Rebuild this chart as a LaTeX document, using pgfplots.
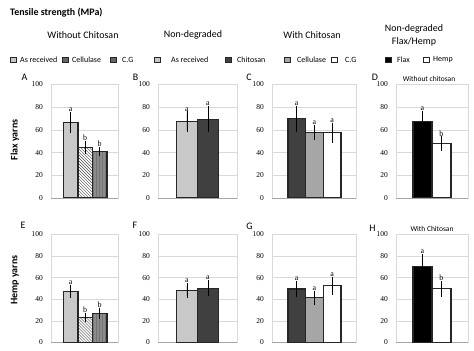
\documentclass[border=0pt]{standalone}
\usepackage{fontspec}
\setmainfont{Carlito}
\newfontfamily\tnr{Liberation Serif}
\usepackage{pgfplots}
\pgfplotsset{compat=1.18}
\usetikzlibrary{patterns}
\definecolor{gridc}{HTML}{D9D9D9}
\definecolor{axc}{HTML}{A6A6A6}
\definecolor{edgec}{HTML}{262626}
\definecolor{asrec}{HTML}{C8C8C8}
\definecolor{chit}{HTML}{404040}
\definecolor{cellc}{HTML}{A6A6A6}
\definecolor{cgc}{HTML}{8C8C8C}
\definecolor{legdark}{HTML}{666666}
\pgfplotsset{
 panel/.style={scale only axis, anchor=south west, ymin=0, ymax=100, ytick={0,20,...,100},
   ymajorgrids, grid style={draw=gridc, line width=0.6bp}, axis line style={draw=gridc, line width=0.6bp},
   xtick=\empty, major tick length=0pt,
   extra y ticks={0}, extra y tick labels={}, extra y tick style={grid style={draw=axc, line width=0.9bp}},
   /pgf/number format/assume math mode=true,
   yticklabel style={font=\tnr\fontsize{7.5}{8}\selectfont, inner sep=0pt, xshift=-8bp}},
 mybar/.style={ybar, bar width=1, bar shift=0pt, draw=edgec, line width=1.2bp,
   error bars/y dir=both, error bars/y explicit,
   error bars/error bar style={black, line width=0.9bp},
   error bars/error mark options={black, line width=0.9bp, mark size=1.9bp}},
 lett/.style={only marks, mark=none, nodes near coords, point meta=explicit symbolic,
   nodes near coords style={font=\tnr\fontsize{8}{9}\selectfont, anchor=south, inner sep=2bp, black}},
}
\newcommand{\lsq}[3]{\draw[draw=edgec, line width=0.6bp, fill=#3] (#1bp-2.8bp,#2bp-2.8bp) rectangle (#1bp+2.8bp,#2bp+2.8bp);}
\begin{document}
\begin{tikzpicture}
\useasboundingbox (0,0) rectangle (474bp,351bp);
% titles
\node[anchor=west, font=\bfseries\fontsize{10}{12}\selectfont, inner sep=0pt] at (10bp,338bp) {Tensile strength (MPa)};
\node[font=\fontsize{10}{12}\selectfont] at (83bp,316bp) {Without Chitosan};
\node[font=\fontsize{10}{12}\selectfont] at (193bp,316bp) {Non-degraded};
\node[font=\fontsize{10}{12}\selectfont] at (312bp,316bp) {With Chitosan};
\node[font=\fontsize{10}{13}\selectfont, align=center] at (414bp,315.5bp) {Non-degraded\\Flax/Hemp};
% legends
\def\ly{291}
\lsq{13.5}{\ly}{asrec}\node[anchor=west, inner sep=0pt, font=\fontsize{8}{9}\selectfont] at (20bp,\ly bp) {As received};
\lsq{65.5}{\ly}{legdark}\node[anchor=west, inner sep=0pt, font=\fontsize{8}{9}\selectfont] at (72bp,\ly bp) {Cellulase};
\lsq{113}{\ly}{legdark}\node[anchor=west, inner sep=0pt, font=\fontsize{8}{9}\selectfont] at (122bp,\ly bp) {C.G};
\lsq{157.5}{\ly}{asrec}\node[anchor=west, inner sep=0pt, font=\fontsize{8}{9}\selectfont] at (171bp,\ly bp) {As received};
\lsq{228.5}{\ly}{chit}\node[anchor=west, inner sep=0pt, font=\fontsize{8}{9}\selectfont] at (237bp,\ly bp) {Chitosan};
\lsq{287.5}{\ly}{cellc}\node[anchor=west, inner sep=0pt, font=\fontsize{8}{9}\selectfont] at (297bp,\ly bp) {Cellulase};
\lsq{334.5}{\ly}{white}\node[anchor=west, inner sep=0pt, font=\fontsize{8}{9}\selectfont] at (345bp,\ly bp) {C.G};
\lsq{388}{\ly}{black}\node[anchor=west, inner sep=0pt, font=\fontsize{8}{9}\selectfont] at (397bp,\ly bp) {Flax};
\lsq{426}{\ly}{white}\node[anchor=west, inner sep=0pt, font=\fontsize{8}{9}\selectfont] at (433bp,\ly bp) {Hemp};
% panel letters
\foreach \l/\x/\y in {A/24.5/274, B/135.5/274, C/249/274, D/375/274, E/23/126, F/135/126, G/249.5/125, H/372.5/123}
  \node[font=\fontsize{10}{12}\selectfont] at (\x bp,\y bp) {\l};
\node[font=\fontsize{7.5}{9}\selectfont] at (429bp,272bp) {Without chitosan};
\node[font=\fontsize{7.5}{9}\selectfont] at (432bp,122bp) {With Chitosan};
\node[rotate=90, font=\bfseries\fontsize{10}{12}\selectfont] at (15bp,211bp) {Flax yarns};
\node[rotate=90, font=\bfseries\fontsize{10}{12}\selectfont] at (15bp,71bp) {Hemp yarns};
% ---------- A
\begin{axis}[panel, at={(51bp,153bp)}, width=67bp, height=113.5bp, xmin=-0.36, xmax=4.26]
\addplot[fill=asrec, mybar] coordinates {(1,66.5) +- (0,7.5)};
\addplot[fill=white, postaction={pattern=north west lines, pattern color=black!70}, mybar] coordinates {(2,44.6) +- (0,4.3)};
\addplot[fill=cgc, postaction={pattern=vertical lines, pattern color=black!60}, mybar] coordinates {(3,41.1) +- (0,2.0)};
\addplot[lett] table[meta=l, row sep=\\]{x y l\\ 1 74 a\\ 2 48.9 b\\ 3 43.1 b\\};
\end{axis}
% ---------- B
\begin{axis}[panel, at={(158bp,153bp)}, width=79bp, height=113.5bp, xmin=-0.38, xmax=3.38]
\addplot[fill=asrec, mybar] coordinates {(1,67.3) +- (0,7.3)};
\addplot[fill=chit, mybar] coordinates {(2,69.4) +- (0,10)};
\addplot[lett] table[meta=l, row sep=\\]{x y l\\ 1 74.6 a\\ 2 79.4 a\\};
\end{axis}
% ---------- C
\begin{axis}[panel, at={(272bp,153bp)}, width=84bp, height=113.5bp, xmin=-0.40, xmax=4.35]
\addplot[fill=chit, mybar] coordinates {(1,69.8) +- (0,10)};
\addplot[fill=cellc, mybar] coordinates {(2,58) +- (0,5)};
\addplot[fill=white, mybar] coordinates {(3,57.5) +- (0,7)};
\addplot[lett] table[meta=l, row sep=\\]{x y l\\ 1 79.8 a\\ 2 63 a\\ 3 64.5 a\\};
\end{axis}
% ---------- D
\begin{axis}[panel, at={(396bp,153bp)}, width=72bp, height=113.5bp, xmin=-0.39, xmax=3.40]
\addplot[fill=black, mybar] coordinates {(1,67.7) +- (0,7.3)};
\addplot[fill=white, mybar] coordinates {(2,47.8) +- (0,4.8)};
\addplot[lett] table[meta=l, row sep=\\]{x y l\\ 1 75 a\\ 2 52.6 b\\};
\end{axis}
% ---------- E
\begin{axis}[panel, at={(51bp,8.5bp)}, width=67bp, height=108bp, xmin=-0.36, xmax=4.26]
\addplot[fill=asrec, mybar] coordinates {(1,47.4) +- (0,4.4)};
\addplot[fill=white, postaction={pattern=north west lines, pattern color=black!70}, mybar] coordinates {(2,23) +- (0,2.6)};
\addplot[fill=cgc, postaction={pattern=vertical lines, pattern color=black!60}, mybar] coordinates {(3,26.9) +- (0,3.4)};
\addplot[lett] table[meta=l, row sep=\\]{x y l\\ 1 51.8 a\\ 2 25.6 b\\ 3 30.3 b\\};
\end{axis}
% ---------- F
\begin{axis}[panel, at={(158bp,8.5bp)}, width=79bp, height=108bp, xmin=-0.38, xmax=3.38]
\addplot[fill=asrec, mybar] coordinates {(1,48) +- (0,5)};
\addplot[fill=chit, mybar] coordinates {(2,50.2) +- (0,5.6)};
\addplot[lett] table[meta=l, row sep=\\]{x y l\\ 1 53 a\\ 2 55.8 a\\};
\end{axis}
% ---------- G
\begin{axis}[panel, at={(272bp,8.5bp)}, width=84bp, height=108bp, xmin=-0.40, xmax=4.35]
\addplot[fill=chit, mybar] coordinates {(1,49.5) +- (0,5.7)};
\addplot[fill=cellc, mybar] coordinates {(2,41.5) +- (0,4.8)};
\addplot[fill=white, mybar] coordinates {(3,52.6) +- (0,6.6)};
\addplot[lett] table[meta=l, row sep=\\]{x y l\\ 1 55.2 a\\ 2 46.3 a\\ 3 59.2 a\\};
\end{axis}
% ---------- H
\begin{axis}[panel, at={(396bp,8.5bp)}, width=72bp, height=108bp, xmin=-0.39, xmax=3.40]
\addplot[fill=black, mybar] coordinates {(1,70.5) +- (0,10)};
\addplot[fill=white, mybar] coordinates {(2,49.8) +- (0,5.5)};
\addplot[lett] table[meta=l, row sep=\\]{x y l\\ 1 80.5 a\\ 2 55.3 b\\};
\end{axis}
\end{tikzpicture}
\end{document}
